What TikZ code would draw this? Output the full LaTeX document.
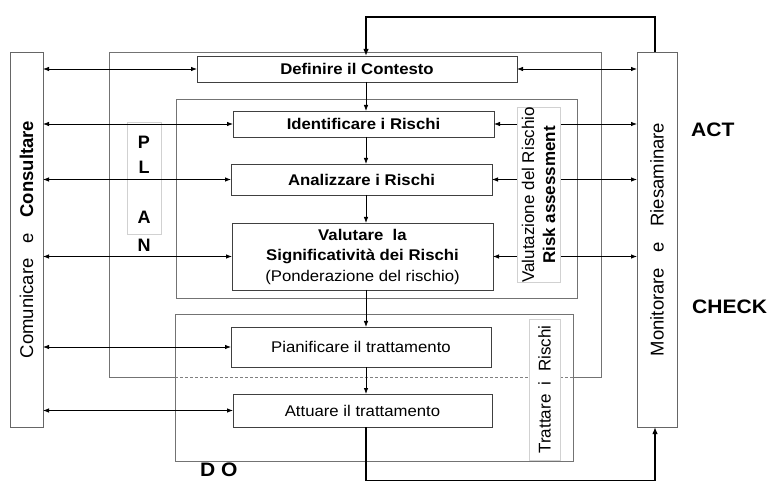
\documentclass[tikz,border=0pt]{standalone}
\usepackage{fontspec}
\setmainfont{Liberation Sans}
\newfontfamily\hf{Liberation Sans}[FakeStretch=1.08]
\usetikzlibrary{arrows.meta}
\begin{document}
\begin{tikzpicture}[x=1pt,y=-1pt,
  frame/.style={draw=black!55, line width=0.8pt},
  proc/.style={draw=black!75, line width=0.9pt, fill=white, inner sep=0pt, outer sep=0pt, align=center, font=\hf\fontsize{15.5}{20.5}\selectfont},
  procb/.style={proc, font=\hf\bfseries\fontsize{15.5}{20.5}\selectfont},
  lbl/.style={draw=black!18, line width=0.6pt, fill=white, inner sep=0pt, outer sep=0pt},
  side/.style={draw=black!60, line width=0.8pt, fill=white, inner sep=0pt, outer sep=0pt},
  vtext/.style={rotate=90, inner sep=0pt, font=\fontsize{18.5}{20}\selectfont},
  big/.style={font=\hf\bfseries\fontsize{19.5}{20}\selectfont, inner sep=0pt},
  plan/.style={font=\bfseries\fontsize{18}{20}\selectfont, inner sep=0pt},
  arr/.style={-{Latex[length=6pt,width=4.5pt]}, line width=0.8pt},
  darr/.style={{Latex[length=6pt,width=4.5pt]}-{Latex[length=6pt,width=4.5pt]}, line width=0.8pt},
  fb/.style={-{Latex[length=7pt,width=5.5pt]}, line width=1.8pt},
]
\useasboundingbox (0,0) rectangle (769,481);

% frames
\draw[frame] (175,377) -- (109,377) -- (109,52) -- (601,52) -- (601,377) -- (573,377);
\draw[frame, draw=black!50, line width=0.6pt, dash pattern=on 3pt off 2pt] (175,377) -- (573,377);
\draw[frame] (176,99) rectangle (577,298);
\draw[frame] (175,314) rectangle (573,461);

% PLAN label
\node[lbl, fill=none, minimum width=34pt, minimum height=112pt] (planbox) at (144,178) {};
\node[plan] (p1) at (144,142) {P};
\node[plan] (p2) at (144,167) {L};
\node[plan] (p3) at (144,217) {A};
\node[plan] (p4) at (144,245) {N};

% side boxes
\node[side, minimum width=33pt, minimum height=375pt] (L) at (26.5,239.5) {};
\node[vtext] (Lt) at (L.center) {Comunicare\ \ \ e\ \ \ \textbf{Consultare}};
\node[side, minimum width=40pt, minimum height=375pt] (R) at (657,239.5) {};
\node[vtext] (Rt) at (R.center) {Monitorare\ \ \ e\ \ \ Riesaminare};

% process boxes
\node[procb, minimum width=320pt, minimum height=26pt] (D) at (357,69) {Definire il Contesto};
\node[procb, minimum width=261pt, minimum height=26pt] (I) at (363.5,124) {Identificare i Rischi};
\node[procb, minimum width=261pt, minimum height=31pt] (A) at (361.5,179.5) {Analizzare i Rischi};
\node[proc, minimum width=261pt, minimum height=67pt] (V) at (362.5,256.5) {\textbf{Valutare\ \ la}\\\textbf{Significatività dei Rischi}\\(Ponderazione del rischio)};
\node[proc, minimum width=260pt, minimum height=40pt] (P) at (361,347) {Pianificare il trattamento};
\node[proc, minimum width=259pt, minimum height=33pt] (T) at (362.5,410.5) {Attuare il trattamento};

% connectors left
\foreach \n in {D,I,A,V,P,T}
  \draw[darr] (L.east |- \n.west) -- (\n.west);
% connectors right
\foreach \n in {D,I,A,V}
  \draw[darr] (\n.east) -- (R.west |- \n.east);

% vertical flow
\coordinate (ax) at (366,0);
\draw[arr] (ax |- D.south) -- (ax |- I.north);
\draw[arr] (ax |- I.south) -- (ax |- A.north);
\draw[arr] (ax |- A.south) -- (ax |- V.north);
\draw[arr] (ax |- V.south) -- (ax |- P.north);
\draw[arr] (ax |- P.south) -- (ax |- T.north);

% feedback loops
\coordinate (tr) at (655,17);
\coordinate (br) at (655,480.5);
\draw[fb] (tr |- R.north) -- (tr) -| (ax |- D.north);
\draw[fb] (ax |- T.south) |- (br) -- (br |- R.south);

% label boxes (cover connectors)
\node[lbl, rotate=90, minimum width=174pt, minimum height=43pt, align=center, font=\fontsize{17}{21}\selectfont] (VR) at (538.5,195) {Valutazione del Rischio\\\textbf{Risk assessment}};
\node[lbl, rotate=90, minimum width=141pt, minimum height=31pt, font=\fontsize{17}{20}\selectfont] (TR) at (544.5,389.5) {Trattare\ \ i\ \ Rischi};

% PDCA labels
\node[big, anchor=base west] (act) at (691,137) {ACT};
\node[big, anchor=base west] (chk) at (692,314) {CHECK};
\node[big, anchor=base west] (do) at (200,476) {D O};
\end{tikzpicture}
\end{document}
